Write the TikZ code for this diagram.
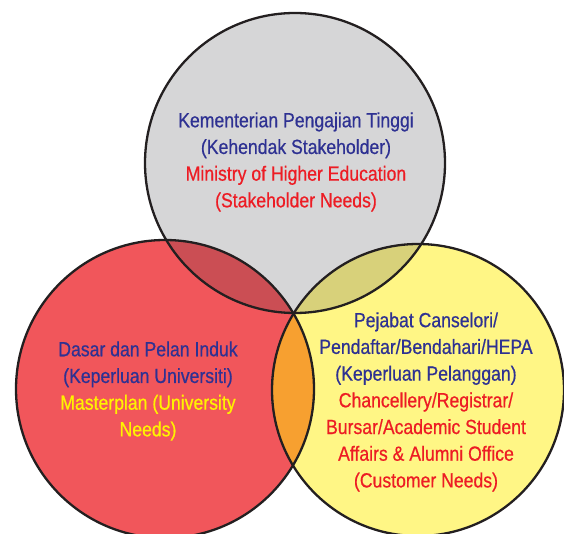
\documentclass[tikz,border=0pt]{standalone}
\usepackage{fontspec}
\setmainfont{Liberation Sans}[FakeStretch=0.86, FakeBold=0.6]
\definecolor{vdText}{HTML}{2E3192}
\definecolor{vdRedText}{HTML}{ED1C24}
\definecolor{vdYelText}{HTML}{FFF200}
\definecolor{vdGray}{HTML}{D6D6D7}
\definecolor{vdRed}{HTML}{F1565B}
\definecolor{vdYellow}{HTML}{FFF685}
\definecolor{vdRedGray}{HTML}{CB4E54}
\definecolor{vdYelGray}{HTML}{D8D17A}
\definecolor{vdOrange}{HTML}{F7A030}
\definecolor{vdLine}{HTML}{231F20}
\usepackage{tikz}
\usetikzlibrary{positioning}

\begin{document}
\begin{tikzpicture}[x=1pt, y=-1pt,
  ring/.style={draw=vdLine, line width=2.3pt},
  lbl/.style={align=center, text=vdText,
    font=\fontsize{20.5}{26.7}\selectfont}
]
  \useasboundingbox (0,0) rectangle (564,534);

  % circles
  \fill[vdGray] (295,163) circle (150);
  \fill[vdRed] (165,389) circle (149);
  \fill[vdYellow] (418,390) circle (146);

  % overlaps
  \begin{scope}
    \clip (295,163) circle (150);
    \fill[vdRedGray] (165,389) circle (149);
    \fill[vdYelGray] (418,390) circle (146);
  \end{scope}
  \begin{scope}
    \clip (165,389) circle (149);
    \fill[vdOrange] (418,390) circle (146);
  \end{scope}

  \draw[ring] (295,163) circle (150);
  \draw[ring] (165,389) circle (149);
  \draw[ring] (418,390) circle (146);

  % labels
  \node[lbl] (ministry) at (296,162) {Kementerian Pengajian Tinggi\\(Kehendak Stakeholder)\\
    \textcolor{vdRedText}{Ministry of Higher Education}\\\textcolor{vdRedText}{(Stakeholder Needs)}};
  \node[lbl] (masterplan) at (148,391) {Dasar dan Pelan Induk\\(Keperluan Universiti)\\
    \textcolor{vdYelText}{Masterplan (University}\\\textcolor{vdYelText}{Needs)}};
  \node[lbl] (office) at (426,402) {Pejabat Canselori/\\Pendaftar/Bendahari/HEPA\\(Keperluan Pelanggan)\\
    \textcolor{vdRedText}{Chancellery/Registrar/}\\\textcolor{vdRedText}{Bursar/Academic Student}\\
    \textcolor{vdRedText}{Affairs \& Alumni Office}\\\textcolor{vdRedText}{(Customer Needs)}};
\end{tikzpicture}
\end{document}
